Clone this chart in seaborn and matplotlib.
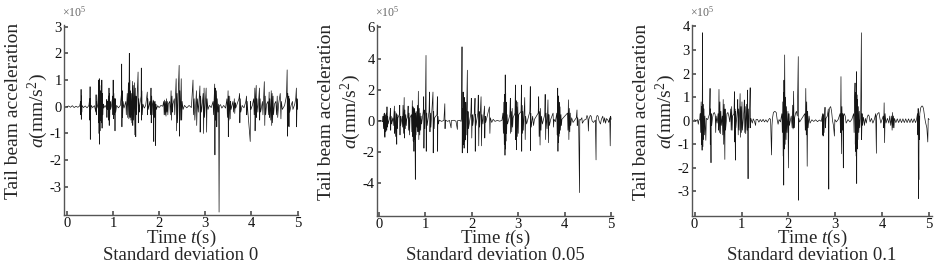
import numpy as np
import pandas as pd
import matplotlib
matplotlib.use("Agg")
import matplotlib.pyplot as plt
import seaborn as sns

# =========================================================
# DATA  (time in s, acceleration in units of 1e5 mm/s^2)
# =========================================================
sd0_points = [
    (0.00, 0), (0.04, 0.03), (0.08, -0.02), (0.12, 0.04), (0.16, -0.03), (0.20, 0.02), (0.24, -0.02), (0.28, 0.03),
    (0.300, 0.2), (0.305, -0.3), (0.310, 0.65), (0.315, -0.47), (0.320, 0.4), (0.325, -0.2), (0.33, 0.05),
    (0.36, -0.03), (0.40, 0.03), (0.44, -0.04), (0.48, 0.05),
    (0.495, 0.3), (0.500, -0.5), (0.505, 0.75), (0.510, -1.22), (0.515, 0.3), (0.52, -0.1), (0.53, 0.05),
    (0.56, -0.03), (0.60, 0.04),
    (0.630, -0.2), (0.635, 0.45), (0.640, -0.3), (0.645, 0.2), (0.655, -0.05), (0.67, 0.05),
    (0.685, 0.5), (0.69, -0.6), (0.695, 1.0), (0.70, -1.0), (0.705, 1.05), (0.71, -1.4), (0.715, 0.8), (0.72, -0.9),
    (0.725, 0.6), (0.73, -0.5), (0.74, 0.3), (0.745, -0.4), (0.75, 0.7), (0.755, -0.6), (0.76, 1.0), (0.765, -0.8),
    (0.77, 0.5), (0.78, -0.3), (0.79, 0.1), (0.80, -0.05), (0.83, 0.05), (0.86, -0.05),
    (0.865, 0.27), (0.87, -0.4), (0.875, 0.2), (0.88, -0.1),
    (0.905, 0.4), (0.91, -0.5), (0.915, 0.7), (0.92, -0.7), (0.925, 0.5), (0.93, -0.4), (0.94, 0.2), (0.95, -0.1), (0.97, 0.05),
    (0.995, 0.4), (1.00, -0.3), (1.005, 1.0), (1.01, -0.45), (1.02, 0.5), (1.03, -0.3), (1.04, 0.3), (1.045, -0.9),
    (1.05, 0.3), (1.06, -0.2), (1.08, 0.05), (1.12, -0.04), (1.16, 0.05),
    (1.185, 0.5), (1.19, 1.6), (1.195, -0.75), (1.20, 0.6), (1.21, -0.4), (1.22, 0.2), (1.24, -0.05),
    (1.28, 0.2), (1.29, -0.3), (1.31, 0.5), (1.32, -0.4), (1.335, 0.9), (1.345, -0.45), (1.355, 2.0), (1.36, -0.3),
    (1.365, 1.0), (1.37, -0.4), (1.38, 0.6), (1.39, -0.5), (1.40, 0.5), (1.41, -0.6), (1.425, 0.95), (1.43, -0.7),
    (1.44, 0.8), (1.45, -0.5), (1.465, 0.9), (1.475, -1.05), (1.485, 0.7), (1.495, -1.12), (1.50, 0.4), (1.51, -0.3),
    (1.52, 0.2), (1.545, 1.3), (1.55, -0.6), (1.56, 0.3), (1.57, -0.2), (1.58, 0.05),
    (1.61, 0.4), (1.615, 1.45), (1.62, -0.5), (1.625, 0.6), (1.635, -0.3), (1.65, 0.1), (1.68, -0.05), (1.71, 0.05),
    (1.745, 0.55), (1.75, -0.3), (1.755, 0.3), (1.765, -0.1),
    (1.80, 0.2), (1.815, -0.3), (1.825, 0.7), (1.83, -0.6), (1.84, 0.4), (1.85, -0.3), (1.86, 0.1),
    (1.875, 0.25), (1.885, -1.3), (1.89, 0.2), (1.90, -0.4), (1.915, 0.2), (1.925, -1.45), (1.93, 0.1), (1.94, -0.1),
    (1.97, 0.04), (2.00, -0.03), (2.04, 0.05), (2.08, 0.02),
    (2.10, 0.2), (2.11, -0.3), (2.12, 0.25), (2.13, -0.3), (2.14, 0.2), (2.15, -0.35), (2.16, 0.3), (2.17, -0.2),
    (2.18, 0.2), (2.19, -0.3), (2.20, 0.1),
    (2.23, 0.2), (2.245, -0.3), (2.26, 0.6), (2.27, -0.5), (2.28, 0.4), (2.29, -0.2), (2.30, 0.1),
    (2.33, 0.3), (2.34, -0.3), (2.37, 1.05), (2.38, -0.9), (2.39, 0.5), (2.40, -0.6), (2.42, 0.8), (2.435, 1.55),
    (2.44, -1.1), (2.45, 0.6), (2.46, -0.5), (2.48, 1.05), (2.49, -0.5), (2.50, 0.2), (2.52, -0.1), (2.55, 0.05),
    (2.60, -0.04), (2.65, 0.05), (2.70, -0.03),
    (2.735, 1.0), (2.745, -0.3), (2.76, 0.3), (2.775, -0.5), (2.81, 0.6), (2.815, -0.7), (2.83, 0.3), (2.85, -0.2),
    (2.885, 0.78), (2.89, -0.95), (2.90, 0.4), (2.92, -0.2), (2.955, 0.5), (2.965, -1.0), (2.975, 0.7), (2.985, -0.4),
    (3.02, 0.7), (3.03, -0.95), (3.04, 0.3), (3.06, -0.1), (3.09, 0.05), (3.13, -0.03),
    (3.17, 0.2), (3.18, -0.3), (3.205, 0.85), (3.21, -1.8), (3.215, 0.7), (3.225, -0.5), (3.245, 0.6), (3.25, -0.75),
    (3.26, 0.3), (3.275, -0.2), (3.29, 0.1), (3.30, -3.94), (3.31, 0.05), (3.33, 0.08), (3.36, -0.05), (3.40, 0.05),
    (3.44, -0.05), (3.47, 0.3), (3.48, -0.4), (3.495, 0.6), (3.50, -1.12), (3.505, 0.4), (3.515, -0.5), (3.53, 0.4),
    (3.54, -0.45), (3.55, 0.2), (3.56, -0.1),
    (3.60, 0.2), (3.615, -0.2), (3.63, 0.3), (3.64, -0.25), (3.65, 0.15), (3.66, -0.05),
    (3.73, 0.3), (3.745, 0.5), (3.75, -0.6), (3.76, 0.3), (3.77, -0.2), (3.80, 0.05), (3.84, -0.04),
    (3.88, 0.2), (3.895, 0.4), (3.90, -0.3), (3.91, 0.2), (3.92, -0.1),
    (3.975, -1.3), (3.98, 0.2), (3.99, -0.1), (4.02, 0.05),
    (4.05, 0.3), (4.06, -0.3), (4.075, 0.7), (4.08, -0.9), (4.09, 0.3), (4.105, 0.8), (4.11, -0.4), (4.12, 0.3),
    (4.14, -0.2), (4.175, 0.7), (4.18, -0.5), (4.19, 0.3), (4.20, -0.2),
    (4.24, 0.2), (4.25, -0.3), (4.28, 0.94), (4.29, -0.7), (4.30, 0.4), (4.31, -0.3), (4.33, 0.1),
    (4.36, 0.2), (4.37, -0.3), (4.385, 0.55), (4.39, -0.4), (4.40, 0.3), (4.42, -0.5), (4.43, 0.6), (4.44, -0.7),
    (4.45, 0.5), (4.46, -0.6), (4.47, 0.4), (4.48, -0.3), (4.50, 0.1),
    (4.53, 0.2), (4.545, -0.3), (4.56, 0.4), (4.57, -0.4), (4.59, 0.1), (4.625, 0.5), (4.64, -0.45), (4.65, 0.2),
    (4.67, -0.1), (4.72, 0.05),
    (4.76, 0.4), (4.775, 1.38), (4.78, -1.1), (4.79, 0.5), (4.80, -0.7), (4.81, 0.4), (4.815, -0.75), (4.82, 0.3),
    (4.83, -0.2), (4.86, 0.05), (4.89, 0.2), (4.90, -0.1),
    (4.94, 0.1), (4.96, 0.3), (4.975, 0.7), (4.98, -0.75), (4.99, 0.3), (5.00, -0.1),
]

sd005_points = [
    (0.00, 0), (0.04, 0.03), (0.08, -0.05),
    (0.09, 0.3), (0.10, -0.5), (0.11, 0.45), (0.12, -0.9), (0.125, 0.5), (0.13, -1.05), (0.14, 0.4), (0.15, -0.7),
    (0.16, 0.5), (0.17, -0.6), (0.175, 0.9), (0.18, -0.4), (0.19, 0.3), (0.20, -0.2),
    (0.24, 0.3), (0.25, 0.8), (0.255, -0.6), (0.26, 0.3), (0.27, -0.2),
    (0.30, 0.2), (0.31, -0.3), (0.335, 0.95), (0.34, -0.8), (0.35, 0.6), (0.36, -1.0), (0.375, 0.5), (0.385, -1.5),
    (0.39, 0.4), (0.40, -0.5), (0.41, 0.2),
    (0.44, 0.4), (0.45, 1.0), (0.455, -0.9), (0.46, 0.3), (0.47, -0.3),
    (0.50, 0.3), (0.51, -0.4), (0.52, 1.0), (0.53, -0.8), (0.545, 1.5), (0.55, -1.1), (0.56, 0.7), (0.57, -0.5),
    (0.58, 0.4), (0.59, -0.3), (0.60, 0.1),
    (0.62, 0.3), (0.63, 0.95), (0.64, -0.6), (0.65, 0.5), (0.66, -0.9), (0.67, 0.2),
    (0.70, 0.4), (0.71, -0.7), (0.72, 1.3), (0.73, -1.0), (0.735, 0.9), (0.74, -1.3), (0.75, 0.7), (0.755, -1.95),
    (0.76, 0.8), (0.77, -1.2), (0.775, 0.6), (0.785, -3.75), (0.79, 0.5), (0.80, -0.9), (0.81, 0.6), (0.82, -0.4),
    (0.835, 1.0), (0.84, -0.7), (0.85, 1.9), (0.86, -1.2), (0.87, 0.8), (0.88, -0.9), (0.89, 0.5), (0.90, -0.6),
    (0.91, 0.3), (0.92, -0.2),
    (0.955, 0.6), (0.965, 1.55), (0.97, -1.75), (0.98, 0.7), (0.99, -0.5), (1.00, 0.4), (1.015, 4.2), (1.02, -1.95),
    (1.03, 0.5), (1.04, -0.3),
    (1.08, 0.6), (1.09, 1.85), (1.10, -0.7), (1.11, 0.5), (1.12, -0.4), (1.165, 1.85), (1.17, -2.05), (1.18, 0.6),
    (1.19, -0.5), (1.20, 0.2),
    (1.25, 0.4), (1.26, 1.55), (1.265, -1.95), (1.27, 0.3), (1.28, -0.2), (1.30, 0.05),
    (1.35, -0.03), (1.40, 0.03), (1.42, 1.1), (1.425, -0.5), (1.43, 0.05), (1.48, -0.03), (1.52, 0.03),
    (1.555, -0.45), (1.56, 0.02), (1.62, 0.04), (1.66, -0.02), (1.69, -0.55), (1.695, 0.02), (1.74, 0.03), (1.77, -0.03),
    (1.78, 0.3), (1.79, 4.75), (1.795, -2.05), (1.80, 0.8), (1.81, -1.0), (1.815, 1.85), (1.82, -1.5), (1.83, 1.0),
    (1.835, -1.75), (1.84, 1.5), (1.85, -1.3), (1.86, 0.9), (1.865, -1.2), (1.87, 1.2), (1.88, -0.9), (1.89, 0.8),
    (1.905, 3.25), (1.91, -2.05), (1.92, 0.6), (1.93, -0.5),
    (1.98, 0.5), (1.99, 1.45), (2.00, -1.1), (2.01, 0.4), (2.02, -0.3), (2.06, 0.6), (2.07, 1.45), (2.075, -1.95),
    (2.08, 0.4), (2.09, -0.3), (2.13, 0.5), (2.14, 1.65), (2.15, -1.6), (2.16, 0.6), (2.17, -0.4), (2.20, 1.55),
    (2.21, -1.6), (2.22, 0.4), (2.24, -0.2), (2.275, 0.95), (2.28, -1.1), (2.29, 0.3), (2.30, -0.1),
    (2.38, 0.9), (2.39, -0.8), (2.40, 0.2), (2.43, -0.1), (2.46, 0.1), (2.50, -0.03), (2.55, 0.03), (2.60, -0.02), (2.65, 0.03),
    (2.67, 0.5), (2.68, -0.8), (2.69, 1.2), (2.70, -1.5), (2.71, 1.7), (2.715, -2.2), (2.72, 2.95), (2.725, -1.8),
    (2.73, 1.8), (2.735, -1.3), (2.74, 1.2), (2.75, -0.8), (2.76, 0.4), (2.77, -0.2),
    (2.82, 0.4), (2.83, 1.45), (2.835, -0.8), (2.85, 0.6), (2.86, -0.7), (2.87, 0.8), (2.88, -0.4), (2.89, 0.2),
    (2.93, 0.5), (2.94, 2.3), (2.945, -1.2), (2.955, 1.3), (2.96, -1.85), (2.97, 0.9), (2.98, -1.0), (2.99, 1.2),
    (3.00, -0.8), (3.01, 0.4),
    (3.06, 0.6), (3.07, 2.3), (3.075, -1.95), (3.08, 1.0), (3.09, -0.8), (3.10, 0.6), (3.11, -0.6), (3.14, 1.5),
    (3.15, -1.2), (3.16, 0.3), (3.18, -0.2),
    (3.25, 0.6), (3.26, 2.2), (3.265, -1.9), (3.27, 0.5), (3.28, -0.4), (3.31, 0.3), (3.33, -0.3), (3.35, 0.1),
    (3.43, 0.5), (3.44, 1.55), (3.45, -1.0), (3.46, 0.6), (3.47, -1.55), (3.48, 0.8), (3.49, -0.6), (3.50, 0.3), (3.52, -0.2),
    (3.57, 0.4), (3.58, 1.7), (3.59, -1.2), (3.60, 0.5), (3.62, -0.5), (3.64, 1.35), (3.65, -1.4), (3.66, 0.4),
    (3.67, -0.3), (3.70, 0.1),
    (3.75, 0.5), (3.76, -0.4), (3.77, 0.1), (3.80, -0.05),
    (3.83, 0.5), (3.84, -0.9), (3.85, 2.1), (3.855, -1.95), (3.86, 1.5), (3.865, -1.4), (3.87, 1.6), (3.875, -1.0),
    (3.88, 1.2), (3.89, -0.8), (3.90, 0.9), (3.91, -0.6), (3.92, 0.4), (3.93, -0.3), (3.94, 0.1),
    (4.06, 0.5), (4.07, -0.6), (4.08, 1.35), (4.09, -1.2), (4.10, 0.8), (4.11, -0.7), (4.12, 0.5), (4.13, -0.3),
    (4.15, 0.2), (4.18, -0.1),
    (4.25, 0.2), (4.265, 0.7), (4.27, -0.3), (4.28, 0.2), (4.30, -0.1), (4.32, -4.6), (4.325, 0.1), (4.34, 0.05),
    (4.37, 0.2), (4.38, -0.15),
    (4.42, 0.05), (4.46, 0.1), (4.48, 0.35), (4.50, 0.2), (4.51, -0.65), (4.52, 0.1), (4.55, 0.35), (4.57, 0.3), (4.59, 0.0),
    (4.62, -0.1), (4.66, 0.05), (4.675, -2.5), (4.68, 0.2), (4.70, 0.35), (4.72, 0.3), (4.74, 0.0), (4.77, -0.2),
    (4.79, 0.1), (4.82, 0.3), (4.84, -0.1), (4.86, 0.2), (4.88, -0.15), (4.90, 0.15), (4.93, 0.05), (4.95, -0.1),
    (4.97, 0.2), (4.98, -1.6), (4.99, 0.3), (5.00, 0.1),
]

sd01_points = [
    (0.00, 0.05), (0.03, -0.02), (0.06, 0.05), (0.08, -0.15), (0.09, 0.02), (0.11, 0.05),
    (0.12, 0.3), (0.13, -0.5), (0.14, 0.8), (0.15, -1.0), (0.155, 0.6), (0.16, -1.25), (0.165, 0.9), (0.17, 3.73),
    (0.175, -1.1), (0.18, 0.7), (0.19, -0.8), (0.20, 0.5), (0.21, -0.6), (0.22, 0.2),
    (0.24, -0.83), (0.25, 0.1), (0.28, 0.05),
    (0.32, 0.3), (0.33, 1.37), (0.335, -1.0), (0.34, 0.5), (0.35, -1.78), (0.355, 0.3), (0.365, -0.2),
    (0.38, 0.1), (0.40, 0.3), (0.42, 0.35), (0.44, 0.25), (0.45, -0.5), (0.46, 0.2), (0.48, -0.1),
    (0.50, 0.3), (0.51, -0.4), (0.52, 1.33), (0.53, -0.5), (0.54, 0.8), (0.55, -0.55), (0.56, 0.4), (0.57, -0.2),
    (0.59, 0.2), (0.60, -0.6), (0.61, 0.9), (0.62, -1.0), (0.63, 0.7), (0.645, -1.64), (0.65, 0.5), (0.66, -0.4),
    (0.68, 0.1), (0.69, 0.3), (0.71, 0.35), (0.73, 0.2), (0.75, -0.05),
    (0.77, 0.5), (0.78, -0.4), (0.79, 0.6), (0.80, -0.4), (0.81, 0.2),
    (0.84, 0.3), (0.85, 1.23), (0.855, -0.9), (0.86, 0.5), (0.87, -1.67), (0.875, 0.4), (0.88, -0.3),
    (0.91, 0.4), (0.92, 0.9), (0.93, -0.6), (0.94, 0.5), (0.95, -0.4), (0.97, 1.15), (0.98, -0.7), (0.99, 0.6),
    (1.00, -0.5), (1.01, 0.8), (1.02, -0.4),
    (1.05, 0.4), (1.06, 0.88), (1.07, -0.5), (1.08, 0.6), (1.09, -0.55), (1.11, 0.7), (1.12, -0.4), (1.13, 1.3),
    (1.14, -2.46), (1.145, 0.5), (1.16, -0.3), (1.175, 0.6), (1.185, 1.4), (1.19, -0.3), (1.20, 0.1),
    (1.23, -0.1), (1.25, 0.08), (1.28, -0.05), (1.30, -0.2), (1.31, 0.05), (1.34, 0.06), (1.37, -0.06), (1.40, 0.05),
    (1.43, -0.04), (1.46, 0.06), (1.49, -0.05), (1.52, 0.04), (1.55, -0.06), (1.58, 0.05),
    (1.60, 0.1), (1.62, 0.05), (1.63, -0.8), (1.64, -1.45), (1.65, -0.2), (1.66, 0.1), (1.68, 0.35), (1.71, 0.4),
    (1.74, 0.35), (1.76, 0.05), (1.78, -0.15), (1.80, 0.05), (1.83, -0.05),
    (1.86, 0.3), (1.87, -0.5), (1.88, 0.8), (1.89, -1.5), (1.895, 1.2), (1.90, -2.73), (1.905, 1.72), (1.91, -1.2),
    (1.92, 2.79), (1.93, -1.0), (1.94, 1.0), (1.95, -0.8), (1.96, 0.6), (1.97, -0.5), (1.99, 0.4), (2.00, -2.0),
    (2.01, 0.3), (2.02, -0.2),
    (2.06, 0.2), (2.08, -0.3), (2.09, 0.66), (2.10, -0.35), (2.11, 1.25), (2.12, -0.3), (2.13, 0.1),
    (2.15, 0.3), (2.17, 0.4), (2.19, 0.2), (2.21, 2.72), (2.215, -3.37), (2.22, 0.1), (2.24, -0.05),
    (2.35, 0.3), (2.36, -0.4), (2.37, 1.37), (2.38, -0.6), (2.39, 0.8), (2.40, -1.93), (2.41, 0.4), (2.42, -0.3),
    (2.44, 0.2), (2.46, -0.1),
    (2.50, 0.04), (2.54, -0.03), (2.58, 0.04), (2.62, -0.04), (2.66, 0.03), (2.70, -0.03),
    (2.72, 0.2), (2.73, -0.6), (2.735, 0.3), (2.74, -0.65), (2.75, 0.25), (2.76, -0.5), (2.77, 0.2), (2.78, 0.57),
    (2.79, -0.3), (2.80, 0.1),
    (2.83, 0.2), (2.85, 0.5), (2.86, -2.9), (2.865, 0.3), (2.88, 0.55), (2.90, 0.6), (2.92, 0.4), (2.94, 0.0),
    (2.96, -0.2), (2.98, -0.65), (2.99, 0.05), (3.02, -0.05), (3.06, 0.05),
    (3.10, 0.3), (3.11, -0.5), (3.12, 1.87), (3.13, -1.4), (3.14, 0.6), (3.15, -0.4), (3.16, 0.3), (3.17, -2.0),
    (3.175, 0.2), (3.19, 0.3), (3.21, 0.2), (3.23, -0.1), (3.27, 0.05), (3.31, -0.05), (3.35, 0.05),
    (3.39, 0.3), (3.40, -0.5), (3.41, 0.9), (3.42, 1.6), (3.425, -1.0), (3.43, 1.0), (3.435, -1.3), (3.44, 1.2),
    (3.445, -1.5), (3.45, 2.08), (3.455, -2.66), (3.46, 1.1), (3.465, -1.2), (3.47, 0.9), (3.48, -0.8), (3.49, 0.6),
    (3.50, -0.5), (3.51, 0.4), (3.52, -0.3), (3.54, 0.3), (3.555, 3.73), (3.56, -0.8), (3.57, 0.3), (3.58, -0.2),
    (3.60, 0.15), (3.62, -0.2), (3.64, 0.1), (3.66, -0.1), (3.68, 0.15), (3.70, 0.25), (3.72, 0.2), (3.74, -0.05),
    (3.77, 0.1), (3.80, -0.1), (3.83, 0.05), (3.86, 0.3), (3.875, -1.38), (3.88, 0.2), (3.90, 0.3), (3.93, 0.35),
    (3.95, 0.1), (3.97, -0.1),
    (4.02, 0.2), (4.03, -0.3), (4.04, 0.76), (4.05, -0.93), (4.06, 0.3), (4.08, -0.1), (4.11, 0.1), (4.14, -0.1),
    (4.16, 0.2), (4.18, -0.2),
    (4.20, 0.2), (4.21, -0.4), (4.22, 0.35), (4.23, -0.3), (4.24, 0.2), (4.25, -0.3), (4.26, 0.1),
    (4.29, -0.08), (4.32, 0.08), (4.35, -0.08), (4.38, 0.08), (4.41, -0.08), (4.44, 0.08), (4.47, -0.08),
    (4.50, 0.08), (4.53, -0.08), (4.56, 0.08), (4.59, -0.08), (4.62, 0.08), (4.65, -0.08), (4.68, 0.08),
    (4.71, -0.08), (4.73, 0.05),
    (4.75, 0.3), (4.76, -0.6), (4.765, 0.52), (4.77, -3.3), (4.775, -1.5), (4.78, -2.5), (4.785, 0.2), (4.79, -0.8),
    (4.80, 0.3), (4.82, 0.55), (4.84, 0.62), (4.86, 0.62), (4.88, 0.5), (4.90, 0.2), (4.92, -0.05), (4.95, -0.3),
    (4.97, -0.9), (4.98, 0.1), (5.00, 0.05),
]

panel_titles = ["Standard deviation 0", "Standard deviation 0.05", "Standard deviation 0.1"]
x_ticks = [0, 1, 2, 3, 4, 5]
y_ticks = [[-3, -2, -1, 0, 1, 2, 3], [-4, -2, 0, 2, 4, 6], [-3, -2, -1, 0, 1, 2, 3, 4]]

# =========================================================
# STYLE
# =========================================================
sns.set_theme(style="ticks")
plt.rcParams["font.family"] = ["Liberation Serif", "DejaVu Serif"]
plt.rcParams["mathtext.fontset"] = "custom"
plt.rcParams["mathtext.rm"] = "Liberation Serif"
plt.rcParams["mathtext.it"] = "Liberation Serif:italic"
plt.rcParams["axes.unicode_minus"] = False

W, H = 941, 263
fig = plt.figure(figsize=(W / 100, H / 100), dpi=100)

# axes boxes in pixels: left, top, right, bottom
px_boxes = [(64, 25, 298, 215), (377, 25, 613, 216), (692, 25, 932, 216)]
xlims = [(-0.06, 5.01), (-0.04, 5.04), (-0.055, 5.06)]
ylims = [(-4.05, 3.06), (-6.1, 6.15), (-4.04, 4.06)]
spine_col = "#555555"

for i, pts in enumerate([sd0_points, sd005_points, sd01_points]):
    l, t, r, b = px_boxes[i]
    w, h = r - l, b - t
    ax = fig.add_axes([l / W, 1 - b / H, w / W, h / H])
    df = pd.DataFrame(pts, columns=["t", "a"])
    sns.lineplot(data=df, x="t", y="a", sort=False, estimator=None,
                 color="#151515", lw=0.5, ax=ax)

    ax.set_xlim(*xlims[i])
    ax.set_ylim(*ylims[i])
    ax.set_xticks(x_ticks)
    ax.set_yticks(y_ticks[i])
    sns.despine(ax=ax)
    for s in ["left", "bottom"]:
        ax.spines[s].set_color(spine_col)
        ax.spines[s].set_linewidth(1.0)
    ax.tick_params(direction="in", length=3, color=spine_col, labelsize=10.5,
                   labelcolor="#111111", pad=1.5)

    # x label sits with its baseline ~28 px under the axis line
    ax.set_xlabel("Time $t$(s)", fontsize=13.5)
    ax.xaxis.label.set_va("baseline")
    ax.xaxis.set_label_coords(0.5, -(243 - b) / h)

    ax.set_ylabel("Tail beam acceleration\n$a$(mm/s$^2$)", fontsize=14, linespacing=1.2)
    ax.yaxis.set_label_coords(-14 / w, 0.5 + 9 / h)

    ax.text(-0.01, 1.03, "×10$^5$", transform=ax.transAxes, fontsize=8.5,
            color="#666666", ha="left", va="bottom")

    fig.text((l + r) / 2 / W, 2.5 / H, panel_titles[i], ha="center", va="baseline", fontsize=13.5)

fig.savefig("out.png", dpi=100)
